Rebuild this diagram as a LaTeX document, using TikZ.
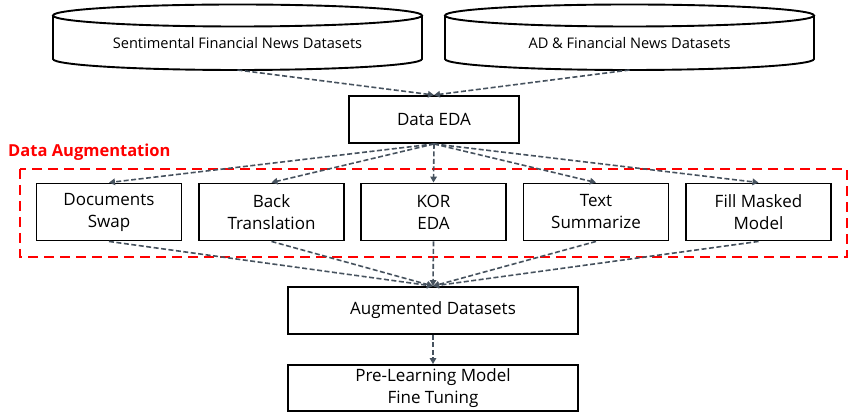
\documentclass[tikz,border=0pt]{standalone}
\usepackage{fontspec}
\setmainfont{Open Sans}
\usetikzlibrary{arrows.meta}
\definecolor{arrowgray}{HTML}{46525E}
\definecolor{augred}{HTML}{FF0000}
\begin{document}
\begin{tikzpicture}[x=1pt,y=-1pt,
  box/.style={draw=black, line width=1.9pt, fill=white, align=center, inner sep=0pt, font=\fontsize{17}{22}\selectfont},
  rowbox/.style={box, minimum width=145pt, minimum height=57pt},
  cylline/.style={draw=black, line width=1.9pt, fill=white},
  flow/.style={draw=arrowgray, line width=1.6pt, dash pattern=on 5pt off 2.5pt, -{Triangle[length=6pt,width=6.5pt]}},
  cyltext/.style={font=\fontsize{14.6}{17}\selectfont, inner sep=0pt}
]
\useasboundingbox (0,0) rectangle (856,419);
% cylinder 1
\draw[cylline] (53,15.5) -- (53,59) arc[start angle=180,end angle=0,x radius=184.5,y radius=11] -- (422,15.5);
\draw[cylline] (237.5,15.5) ellipse[x radius=184.5, y radius=11];
\node[cyltext] (cyl1) at (237.5,43) {Sentimental Financial News Datasets};
\coordinate (cyl1b) at (237.5,70);
% cylinder 2
\draw[cylline] (445,15.5) -- (445,59) arc[start angle=180,end angle=0,x radius=184.5,y radius=11] -- (814,15.5);
\draw[cylline] (629.5,15.5) ellipse[x radius=184.5, y radius=11];
\node[cyltext] (cyl2) at (629.5,43) {AD \& Financial News Datasets};
\coordinate (cyl2b) at (629.5,70);
% Data EDA
\node[box, minimum width=170pt, minimum height=47pt] (eda) at (434,119.5) {Data EDA};
% red group
\draw[augred, line width=2.8pt, dash pattern=on 10pt off 6pt] (20,169) rectangle (847,257);
\node[anchor=base west, inner sep=0pt, text=augred, font=\fontsize{16.5}{19}\selectfont\bfseries] (auglabel) at (8,157) {Data Augmentation};
% row boxes
\node[rowbox] (ds) at (109,212) {Documents\\Swap};
\node[rowbox] (bt) at (271.5,212) {Back\\Translation};
\node[rowbox] (ke) at (433.5,212) {KOR\\EDA};
\node[rowbox] (ts) at (596,212) {Text\\Summarize};
\node[rowbox] (fm) at (758.5,212) {Fill Masked\\Model};
% lower boxes
\node[box, minimum width=290pt, minimum height=47pt] (aug) at (433,310.5) {Augmented Datasets};
\node[box, minimum width=290pt, minimum height=46pt] (pre) at (433,388) {Pre-Learning Model\\Fine Tuning};
% connectors
\draw[flow] (cyl1b) -- (eda.north);
\draw[flow] (cyl2b) -- (eda.north);
\foreach \n in {ds,bt,ke,ts,fm}{
  \draw[flow] (eda.south) -- (\n.north);
  \draw[flow] (\n.south) -- (aug.north);
}
\draw[flow] (aug.south) -- (pre.north);
\end{tikzpicture}
\end{document}
